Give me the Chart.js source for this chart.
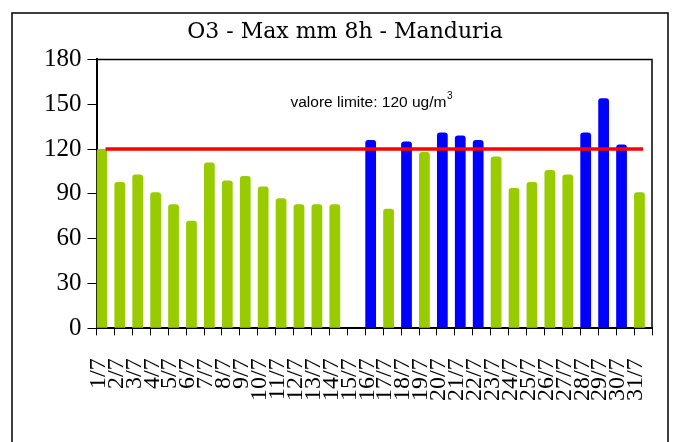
<!DOCTYPE html>
<html>
<head>
<meta charset="utf-8">
<title>O3 - Max mm 8h - Manduria</title>
<script src="https://cdn.jsdelivr.net/npm/chart.js@4"></script>
<style>
    html, body { margin: 0; padding: 0; background: #fff; }
    canvas { display: block; }
</style>
</head>
<body>
<canvas id="o3Chart" width="677" height="442"></canvas>
<script>
    // giorni di luglio
    const days = ['1/7', '2/7', '3/7', '4/7', '5/7', '6/7', '7/7', '8/7', '9/7', '10/7',
        '11/7', '12/7', '13/7', '14/7', '15/7', '16/7', '17/7', '18/7', '19/7', '20/7',
        '21/7', '22/7', '23/7', '24/7', '25/7', '26/7', '27/7', '28/7', '29/7', '30/7', '31/7'];

    // max media mobile 8h (ug/m3), 15/7 dato mancante
    const maxMm8h = [120, 98, 103, 91, 83, 72, 111, 99, 102, 95,
        87, 83, 83, 83, null, 126, 80, 125, 118, 131,
        129, 126, 115, 94, 98, 106, 103, 131, 154, 123, 91];

    const limitValue = 120;
    const yTicks = [0, 30, 60, 90, 120, 150, 180];

    const GREEN = '#99cc00';
    const BLUE = '#0000ff';
    const RED = '#ff0000';

    const framePlugin = {
        id: 'frame',
        beforeDraw(chart) {
            const ctx = chart.ctx;
            ctx.save();
            ctx.fillStyle = '#fff';
            ctx.fillRect(0, 0, chart.width, chart.height);
            ctx.strokeStyle = '#000';
            ctx.lineWidth = 1.5;
            ctx.strokeRect(12, 13, 656, 440);
            ctx.restore();
        },
        afterDraw(chart) {
            const ctx = chart.ctx;
            const a = chart.chartArea;
            const y = chart.scales.y;
            ctx.save();
            // bordo superiore e destro dell'area del grafico
            ctx.strokeStyle = '#000';
            ctx.lineWidth = 1.5;
            ctx.beginPath();
            ctx.moveTo(a.left, a.top);
            ctx.lineTo(a.right, a.top);
            ctx.lineTo(a.right, a.bottom);
            ctx.stroke();

            // etichetta valore limite
            ctx.fillStyle = '#000';
            ctx.textBaseline = 'middle';
            ctx.font = '15.5px "Liberation Sans", Arial, sans-serif';
            const main = 'valore limite: ' + limitValue + ' ug/m';
            const w = ctx.measureText(main).width;
            ctx.font = '10px "Liberation Sans", Arial, sans-serif';
            const w3 = ctx.measureText('3').width;
            const x0 = (a.left + a.right) / 2 - (w + w3) / 2 - 3;
            const ty = y.getPixelForValue(151);
            ctx.font = '15.5px "Liberation Sans", Arial, sans-serif';
            ctx.fillText(main, x0, ty);
            ctx.font = '10px "Liberation Sans", Arial, sans-serif';
            ctx.fillText('3', x0 + w + 0.5, ty - 6);
            ctx.restore();
        }
    };

    const ctx = document.getElementById('o3Chart').getContext('2d');

    new Chart(ctx, {
        type: 'bar',
        data: {
            labels: days,
            datasets: [
                {
                    type: 'line',
                    label: 'valore limite',
                    data: days.map(() => limitValue),
                    borderColor: RED,
                    borderWidth: 3.5,
                    pointRadius: 0,
                    fill: false,
                    order: 0
                },
                {
                    label: 'O3',
                    data: maxMm8h,
                    backgroundColor: c => (c.raw > limitValue ? BLUE : GREEN),
                    borderRadius: 3,
                    categoryPercentage: 0.8,
                    barPercentage: 1.5,
                    order: 1
                },
                {
                    // serie vuota: tiene le barre sul lato sinistro della categoria
                    label: '',
                    data: days.map(() => null),
                    categoryPercentage: 0.8,
                    barPercentage: 1.5,
                    order: 2
                }
            ]
        },
        options: {
            responsive: false,
            animation: false,
            layout: {
                padding: { left: 38, right: 25, top: 14, bottom: 18 }
            },
            plugins: {
                legend: { display: false },
                tooltip: { enabled: false },
                title: {
                    display: true,
                    text: 'O3 - Max mm 8h - Manduria',
                    color: '#000',
                    font: { family: '"DejaVu Serif", serif', size: 22, weight: 'normal' },
                    padding: { top: 5, bottom: 14 }
                }
            },
            scales: {
                x: {
                    afterFit: axis => {
                        // le etichette ruotate non devono restringere l'area a destra
                        axis.paddingRight = 0;
                    },
                    grid: {
                        offset: true,
                        drawOnChartArea: false,
                        color: '#000',
                        tickLength: 7
                    },
                    border: { color: '#000', width: 2 },
                    ticks: {
                        autoSkip: false,
                        minRotation: 90,
                        maxRotation: 90,
                        labelOffset: -7,
                        padding: 23,
                        color: '#000',
                        font: { family: '"Liberation Serif", "Times New Roman", serif', size: 24 }
                    }
                },
                y: {
                    min: yTicks[0],
                    max: yTicks[yTicks.length - 1],
                    afterBuildTicks: axis => {
                        axis.ticks = yTicks.map(v => ({ value: v }));
                    },
                    grid: {
                        drawOnChartArea: false,
                        color: '#000',
                        tickLength: 9
                    },
                    border: { color: '#000', width: 2 },
                    ticks: {
                        padding: 6,
                        color: '#000',
                        font: { family: '"Liberation Serif", "Times New Roman", serif', size: 25 }
                    }
                }
            }
        },
        plugins: [framePlugin]
    });
</script>
</body>
</html>
